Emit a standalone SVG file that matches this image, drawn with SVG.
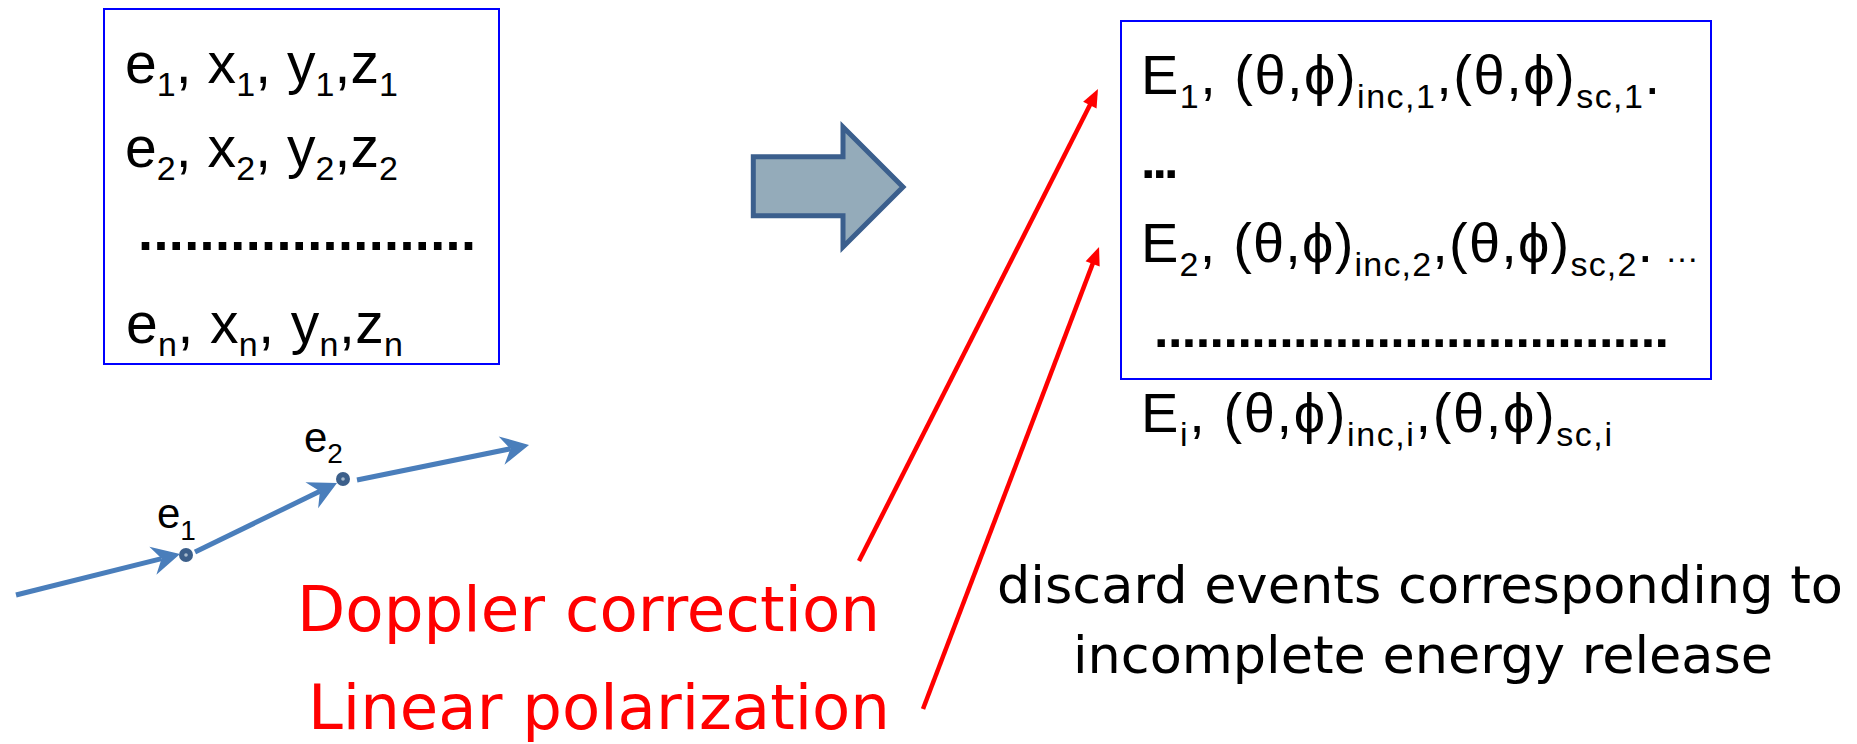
<svg xmlns="http://www.w3.org/2000/svg" width="1857" height="744" viewBox="0 0 1857 744">
<style>
.box{fill:#ffffff;stroke:#0000ff;stroke-width:2}
.bt{font-family:"Liberation Sans",Arial,sans-serif;fill:#000}
.dots{font-family:"Liberation Sans",Arial,sans-serif;fill:#000;font-weight:bold}
.lbl{font-family:"Liberation Sans",Arial,sans-serif;fill:#000}
.red{font-family:"DejaVu Sans",Verdana,sans-serif;fill:#ff0000;font-size:62px}
.blk{font-family:"DejaVu Sans",Verdana,sans-serif;fill:#000;font-size:52px}
.traj{stroke:#4a7ebb;stroke-width:5;fill:none}
.rl{stroke:#ff0000;stroke-width:4.5;fill:none}
.dot{fill:#3c5f8a}
.dotc{fill:#a9bbcc}
</style>
<defs>
<marker id="blueHead" markerUnits="userSpaceOnUse" orient="auto" refX="0" refY="0" viewBox="-10 -15 30 30" markerWidth="30" markerHeight="30" overflow="visible">
<path d="M19,0 L-9,-14.5 L0,0 L-9,14.5 Z" fill="#4a7ebb"/>
</marker>
<marker id="redHead" markerUnits="userSpaceOnUse" orient="auto" refX="0" refY="0" viewBox="-2 -9 21 18" markerWidth="21" markerHeight="18" overflow="visible">
<path d="M17,0 L-1,-7.5 L-1,7.5 Z" fill="#ff0000"/>
</marker>
</defs>
<rect width="1857" height="744" fill="#ffffff"/>

<g id="input-list">
<rect class="box" x="104" y="9" width="395" height="355"/>
<text class="bt" font-size="57" x="125" y="83" textLength="273" lengthAdjust="spacing">e<tspan font-size="34" dy="13">1</tspan><tspan dy="-13">, x</tspan><tspan font-size="34" dy="13">1</tspan><tspan dy="-13">, y</tspan><tspan font-size="34" dy="13">1</tspan><tspan dy="-13">,z</tspan><tspan font-size="34" dy="13">1</tspan></text>
<text class="bt" font-size="57" x="125" y="167" textLength="273" lengthAdjust="spacing">e<tspan font-size="34" dy="13">2</tspan><tspan dy="-13">, x</tspan><tspan font-size="34" dy="13">2</tspan><tspan dy="-13">, y</tspan><tspan font-size="34" dy="13">2</tspan><tspan dy="-13">,z</tspan><tspan font-size="34" dy="13">2</tspan></text>
<text class="dots" font-size="54" x="138" y="250" textLength="338" lengthAdjust="spacing">......................</text>
<text class="bt" font-size="57" x="126" y="343" textLength="277" lengthAdjust="spacing">e<tspan font-size="34" dy="13">n</tspan><tspan dy="-13">, x</tspan><tspan font-size="34" dy="13">n</tspan><tspan dy="-13">, y</tspan><tspan font-size="34" dy="13">n</tspan><tspan dy="-13">,z</tspan><tspan font-size="34" dy="13">n</tspan></text>
</g>

<g id="block-arrow">
<polygon points="753.3,156.7 843,156.7 843,127 903,187 843,247 843,215.8 753.3,215.8" fill="#94abba" stroke="#3b5f8d" stroke-width="5" stroke-linejoin="miter"/>
</g>

<g id="output-list">
<rect class="box" x="1121" y="21" width="590" height="358"/>
<text class="bt" font-size="56" x="1141" y="94" textLength="519" lengthAdjust="spacing">E<tspan font-size="34" dy="14">1</tspan><tspan dy="-14">, (θ,ϕ)</tspan><tspan font-size="34" dy="14">inc,1</tspan><tspan dy="-14">,(θ,ϕ)</tspan><tspan font-size="34" dy="14">sc,1</tspan><tspan dy="-14">.</tspan></text>
<text class="dots" font-size="52" x="1141" y="178" letter-spacing="-3">...</text>
<text class="bt" font-size="56" x="1141" y="262" textLength="558" lengthAdjust="spacing">E<tspan font-size="34" dy="14">2</tspan><tspan dy="-14">, (θ,ϕ)</tspan><tspan font-size="34" dy="14">inc,2</tspan><tspan dy="-14">,(θ,ϕ)</tspan><tspan font-size="34" dy="14">sc,2</tspan><tspan dy="-14">.</tspan><tspan font-size="34"> …</tspan></text>
<text class="dots" font-size="52" x="1154" y="347" textLength="515" lengthAdjust="spacing">.....................................</text>
<text class="bt" font-size="56" x="1141" y="432" textLength="471" lengthAdjust="spacing">E<tspan font-size="34" dy="14">i</tspan><tspan dy="-14">, (θ,ϕ)</tspan><tspan font-size="34" dy="14">inc,i</tspan><tspan dy="-14">,(θ,ϕ)</tspan><tspan font-size="34" dy="14">sc,i</tspan></text>
</g>

<g id="trajectory">
<circle class="dot" cx="186" cy="555" r="7"/>
<circle class="dotc" cx="186" cy="555" r="1.8"/>
<circle class="dot" cx="343" cy="479" r="7"/>
<circle class="dotc" cx="343" cy="479" r="1.8"/>
<text class="lbl" font-size="42" x="157" y="528">e<tspan font-size="28" dy="12">1</tspan></text>
<text class="lbl" font-size="42" x="304" y="452">e<tspan font-size="28" dy="11">2</tspan></text>
</g>

<g id="label-doppler">
<text class="red" x="297" y="631" textLength="583" lengthAdjust="spacingAndGlyphs">Doppler correction</text>
</g>
<g id="label-polarization">
<text class="red" x="308" y="729" textLength="582" lengthAdjust="spacingAndGlyphs">Linear polarization</text>
</g>
<g id="label-discard">
<text class="blk" x="997" y="603" textLength="846" lengthAdjust="spacingAndGlyphs">discard events corresponding to</text>
<text class="blk" x="1073" y="673" textLength="700" lengthAdjust="spacingAndGlyphs">incomplete energy release</text>
</g>

<g id="connectors">
<line class="traj" x1="16" y1="595" x2="161.6" y2="558.6" marker-end="url(#blueHead)"/>
<line class="traj" x1="195" y1="552" x2="319.9" y2="491.3" marker-end="url(#blueHead)"/>
<line class="traj" x1="357" y1="480" x2="510.4" y2="448.8" marker-end="url(#blueHead)"/>
<line class="rl" x1="859" y1="561" x2="1090.3" y2="104.2" marker-end="url(#redHead)"/>
<line class="rl" x1="923" y1="709" x2="1093" y2="262.9" marker-end="url(#redHead)"/>
</g>
</svg>
